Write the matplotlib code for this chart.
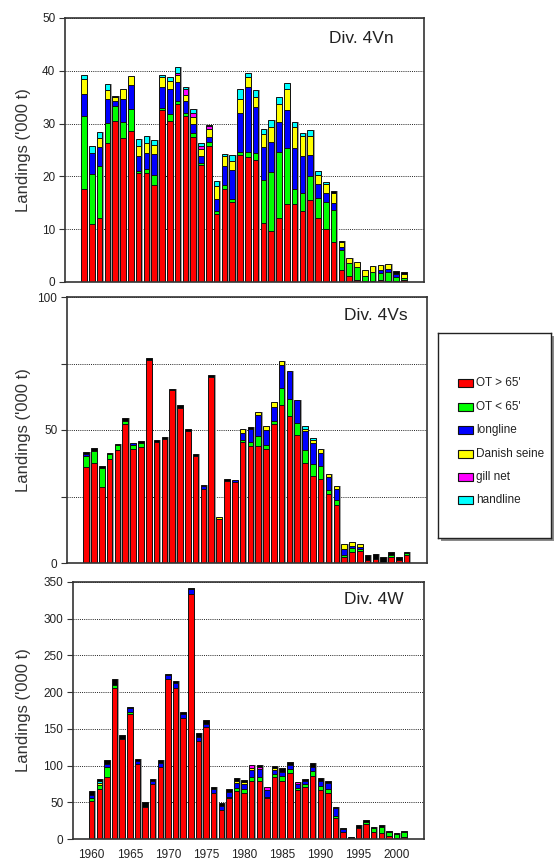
import numpy as np
import matplotlib
matplotlib.use('Agg')
import matplotlib.pyplot as plt
from matplotlib.patches import Rectangle

plt.rcParams['font.family'] = ['Liberation Sans', 'DejaVu Sans']

years = np.arange(1960, 2002)

gear_names = ["OT > 65'", "OT < 65'", 'longline', 'Danish seine', 'gill net', 'handline']
gear_colors = ['#ff0000', '#00ff00', '#0000ff', '#ffff00', '#ff00ff', '#00ffff', '#000000']

# ---- Div. 4Vn ('000 t)
vn_ot_large = [17.6, 10.9, 12.2, 26.3, 30.5, 27.2, 28.6, 20.6, 20.6, 18.3,
               32.5, 30.5, 33.7, 31.4, 27.4, 22.2, 25.8, 12.8, 17.7, 15.1,
               24.1, 23.6, 23.2, 11.1, 9.6, 12.2, 14.7, 14.7, 13.5, 15.6,
               12.2, 10.1, 7.5, 2.3, 1.2, 0.4, 0.1, 0.1, 0.4, 0.1,
               0.1, 0.3]
vn_ot_small = [13.8, 9.6, 9.8, 3.8, 2.8, 3.1, 4.1, 0.5, 0.8, 2.0,
               0.5, 1.3, 0.6, 0.7, 0.9, 0.4, 0.8, 0.6, 0.6, 0.7,
               0.6, 1.1, 1.3, 8.2, 11.3, 12.5, 10.6, 3.0, 3.4, 4.4,
               3.8, 5.1, 6.1, 3.8, 2.4, 2.4, 1.1, 1.7, 1.3, 1.7,
               0.9, 0.5]
vn_longline = [4.3, 3.9, 3.6, 4.6, 0.9, 4.4, 4.6, 2.8, 3.0, 4.0,
               4.0, 4.7, 3.6, 2.1, 1.6, 1.3, 0.9, 2.3, 3.7, 5.4,
               7.4, 12.2, 8.6, 6.3, 5.6, 5.6, 7.3, 7.6, 7.0, 4.1,
               2.5, 1.6, 1.3, 0.5, 0, 0, 0, 0, 0.6, 0.6,
               0.6, 0]
vn_danish = [2.8, 0, 1.6, 1.6, 0.8, 1.8, 1.8, 1.8, 2.0, 1.6,
             1.8, 1.6, 1.3, 1.3, 1.3, 1.3, 1.4, 2.5, 1.9, 1.7,
             2.5, 1.9, 1.9, 2.4, 2.9, 3.4, 4.0, 4.1, 3.8, 3.5,
             1.8, 1.7, 2.0, 0.9, 1.0, 0.9, 1.0, 1.3, 0.9, 1.0,
             0, 0.8]
vn_gillnet = [0, 0, 0, 0, 0, 0, 0, 0, 0, 0,
              0, 0, 0.4, 1.1, 0.8, 0.6, 0.7, 0, 0, 0,
              0, 0, 0, 0, 0, 0, 0, 0, 0, 0,
              0, 0, 0, 0, 0, 0, 0, 0, 0, 0,
              0, 0]
vn_handline = [0.7, 1.3, 1.3, 1.2, 0, 0, 0, 1.4, 1.2, 0.9,
               0.4, 0.8, 1.1, 0.4, 0.8, 0.5, 0, 0.9, 0.4, 1.1,
               2.0, 0.8, 1.3, 0.9, 1.2, 1.4, 1.1, 0.9, 0.6, 1.1,
               0.7, 0.5, 0, 0, 0, 0, 0, 0, 0, 0,
               0, 0]
vn_other = [0, 0, 0, 0, 0.2, 0, 0, 0, 0, 0,
            0, 0, 0, 0, 0, 0, 0.2, 0, 0, 0,
            0, 0, 0, 0, 0, 0, 0, 0, 0, 0,
            0, 0, 0.4, 0.3, 0, 0, 0, 0, 0, 0,
            0.5, 0.2]

# ---- Div. 4Vs
vs_ot_large = [36.1, 37.6, 28.6, 39.2, 42.4, 52.1, 42.9, 43.7, 76.2, 45.4,
               46.6, 64.9, 58.3, 49.5, 40.1, 27.9, 69.9, 16.5, 30.7, 30.3,
               45.4, 44.1, 44.1, 42.9, 52.1, 59.3, 55.3, 48.2, 37.6, 32.6,
               31.6, 25.9, 21.9, 2.1, 4.1, 4.6, 1.0, 1.5, 0.2, 2.1,
               1.0, 3.1]
vs_ot_small = [4.0, 4.6, 7.1, 1.9, 2.0, 1.1, 1.4, 1.3, 0, 0,
               0, 0, 0, 0, 0, 0, 0, 0, 0, 0,
               1.0, 1.3, 3.5, 1.3, 1.1, 6.5, 6.5, 4.6, 4.8, 4.8,
               4.8, 1.6, 1.6, 1.0, 1.5, 0.6, 0, 0, 0, 0.8,
               0, 0.6]
vs_longline = [1.0, 0, 0, 0, 0, 0, 0.9, 0, 0, 0,
               0, 0, 0, 0, 0, 0.9, 0, 0, 0, 1.0,
               2.5, 5.0, 7.9, 5.9, 5.6, 8.8, 10.3, 8.5, 7.1, 7.8,
               5.0, 5.0, 4.3, 2.1, 0.9, 1.0, 0, 0, 0, 0,
               0, 0]
vs_danish = [0, 0, 0, 0, 0, 0, 0, 0, 0, 0,
             0, 0, 0, 0, 0, 0, 0, 0.8, 0, 0,
             1.3, 0, 1.1, 1.4, 1.8, 1.5, 0, 0, 0.9, 1.0,
             1.3, 1.0, 1.0, 2.0, 1.3, 0.9, 0, 0, 0, 0,
             0, 0]
vs_gillnet = [0] * 42
vs_handline = [0, 0, 0, 0, 0, 0, 0, 0, 0, 0,
               0, 0, 0, 0, 0, 0, 0, 0, 0, 0,
               0, 0, 0, 0, 0, 0, 0, 0, 1.0, 0.9,
               0, 0, 0, 0, 0, 0, 0, 0, 0, 0,
               0, 0]
vs_other = [0.6, 1.0, 0.6, 0.3, 0.5, 1.3, 0, 1.0, 0.9, 0.8,
            0.8, 0.6, 1.0, 0.9, 1.0, 0.4, 0.9, 0, 1.0, 0,
            0, 0.6, 0, 0, 0, 0, 0, 0, 0, 0,
            0, 0, 0, 0, 0, 0, 2.1, 2.0, 1.9, 1.1,
            1.3, 0.6]

# ---- Div. 4W
w_ot_large = [51.8, 67.7, 85.0, 205.5, 135.9, 170.0, 102.3, 43.2, 75.0, 98.6,
              217.7, 205.5, 164.5, 333.6, 134.1, 152.3, 63.2, 39.5, 55.5, 65.5,
              63.2, 79.5, 79.5, 55.5, 84.1, 79.5, 89.5, 66.8, 71.4, 86.4,
              66.8, 63.2, 28.2, 10.0, 1.0, 15.5, 20.5, 9.1, 8.6, 4.5,
              0.9, 3.2]
w_ot_small = [3.6, 5.9, 13.6, 4.5, 0, 2.7, 0, 0, 0, 0,
              0, 0, 0, 0, 0, 0, 0, 0, 2.3, 3.6,
              4.5, 4.5, 5.5, 2.3, 4.1, 6.4, 5.5, 3.2, 3.2, 6.4,
              5.5, 5.0, 3.6, 0, 0, 0, 3.2, 5.5, 8.2, 5.5,
              5.9, 5.9]
w_longline = [4.5, 0, 3.6, 0, 0, 5.5, 4.1, 0, 4.1, 5.5,
              5.0, 6.8, 5.9, 6.8, 4.5, 4.5, 4.5, 5.5, 5.9, 6.8,
              7.3, 10.0, 10.0, 9.1, 5.9, 5.9, 5.9, 5.0, 4.5, 5.9,
              7.3, 7.7, 10.0, 3.2, 0, 0, 0, 0, 0, 0,
              0, 0]
w_danish = [0, 3.2, 0, 0, 0, 0, 0, 0, 0, 0,
            0, 0, 0, 0, 0, 0, 0, 0, 0, 3.2,
            2.3, 3.2, 0, 0, 3.2, 0, 0, 0, 0, 0,
            0, 0, 0, 0, 0, 0, 0, 0, 0, 0,
            0, 0]
w_gillnet = [0, 0, 0, 0, 0, 0, 0, 0, 0, 0,
             0, 0, 0, 0, 0, 0, 0, 0, 0, 0,
             0, 3.6, 3.6, 3.6, 0, 0, 0, 3.2, 0, 0,
             0, 0, 0, 0, 0, 0, 0, 0, 0, 0,
             0, 0]
w_handline = [0, 2.0, 0, 0, 0, 0, 0, 0, 0, 0,
              0, 0, 0, 0, 0, 0, 0, 0, 0, 0,
              0, 0, 0, 0, 0, 0, 0, 0, 0, 0,
              0, 0, 0, 0, 0, 0, 0, 0, 0, 0,
              0, 0]
w_other = [5.9, 3.0, 5.5, 7.7, 5.9, 1.0, 2.7, 6.8, 2.7, 3.6,
           2.3, 3.2, 3.2, 1.4, 5.5, 5.5, 3.6, 4.5, 4.5, 3.6,
           3.2, 0, 1.5, 0, 2.3, 5.5, 3.6, 0, 2.7, 4.5,
           4.1, 3.2, 2.3, 1.4, 2.2, 3.6, 2.3, 1.4, 2.3, 1.4,
           0.9, 1.8]

panels = [
    ('Div. 4Vn', [vn_ot_large, vn_ot_small, vn_longline, vn_danish, vn_gillnet, vn_handline, vn_other]),
    ('Div. 4Vs', [vs_ot_large, vs_ot_small, vs_longline, vs_danish, vs_gillnet, vs_handline, vs_other]),
    ('Div. 4W', [w_ot_large, w_ot_small, w_longline, w_danish, w_gillnet, w_handline, w_other]),
]

W, H = 558, 860
fig = plt.figure(figsize=(W / 100, H / 100), dpi=100)

# axes boxes in pixels: left, top, right, bottom
boxes = [(65, 18, 424, 282), (67, 297, 427, 563), (73, 582, 424, 839)]
label_x = [31, 31, 31]
text_pos = [(0.914, 0.924), (0.947, 0.93), (0.943, 0.93)]

for i, (title, series) in enumerate(panels):
    l, t, r, b = boxes[i]
    ax = fig.add_axes([l / W, 1 - b / H, (r - l) / W, (b - t) / H])
    ax.set_axisbelow(True)

    arr = np.array(series, dtype=float)
    total = arr.sum(axis=0)
    # grey drop shadow behind each bar
    ax.bar(years + 0.2, total, width=0.72, color='#a0a0a0', linewidth=0, zorder=1)
    bottom = np.zeros(len(years))
    for vals, col in zip(arr, gear_colors):
        m = vals > 0
        ax.bar(years[m], vals[m], bottom=bottom[m], width=0.72, color=col,
               edgecolor='#111111', linewidth=0.7, zorder=2)
        bottom += vals

    ax.set_xlim(1957.55, 2003.6)
    if i == 0:
        ax.set_ylim(0, 50)
        ax.set_yticks(np.arange(0, 51, 10))
        ax.yaxis.grid(True, which='major', color='#222222', linestyle=(0, (1, 1.2)), linewidth=0.7)
    elif i == 1:
        ax.set_ylim(0, 100)
        ax.set_yticks([0, 50, 100])
        ax.set_yticks([25, 75], minor=True)
        ax.yaxis.grid(True, which='both', color='#222222', linestyle=(0, (1, 1.2)), linewidth=0.7)
        ax.tick_params(axis='y', which='minor', length=4, width=0.8, color='#333333')
    else:
        ax.set_ylim(0, 350)
        ax.set_yticks(np.arange(0, 351, 50))
        ax.yaxis.grid(True, which='major', color='#222222', linestyle=(0, (1, 1.2)), linewidth=0.7)

    ax.tick_params(axis='y', which='major', length=4, width=0.8, color='#333333',
                   labelsize=8.5, labelcolor='#222222', pad=3)
    if i == 2:
        ax.set_xticks(np.arange(1960, 2001, 5))
        ax.tick_params(axis='x', length=0, labelsize=8.5, labelcolor='#222222', pad=7)
    else:
        ax.set_xticks([])

    for sp in ax.spines.values():
        sp.set_color('#333333')
        sp.set_linewidth(1.2)

    ax.set_ylabel("Landings ('000 t)", fontsize=12, color='#333333')
    ax.yaxis.set_label_coords((label_x[i] - l) / (r - l), 0.5)
    ax.text(text_pos[i][0], text_pos[i][1], title, transform=ax.transAxes,
            ha='right', va='center', fontsize=12.5, color='#222222')

# legend box with shadow
lx0, ly0, lx1, ly1 = 438, 333, 551, 538
shadow = fig.add_axes([(lx0 + 3) / W, 1 - (ly1 + 3) / H, (lx1 - lx0) / W, (ly1 - ly0) / H])
shadow.set_facecolor('#8a8a8a')
shadow.set_xticks([])
shadow.set_yticks([])
for sp in shadow.spines.values():
    sp.set_visible(False)
lax = fig.add_axes([lx0 / W, 1 - ly1 / H, (lx1 - lx0) / W, (ly1 - ly0) / H])
lax.set_facecolor('white')
lax.set_xlim(lx0, lx1)
lax.set_ylim(ly1, ly0)
lax.set_xticks([])
lax.set_yticks([])
for sp in lax.spines.values():
    sp.set_color('#222222')
    sp.set_linewidth(1.0)
entry_y = [383, 407, 430, 454, 477, 500]
for name, col, yy in zip(gear_names, gear_colors, entry_y):
    lax.add_patch(Rectangle((458, yy - 4), 15, 8, facecolor=col, edgecolor='#111111', linewidth=0.8))
    lax.text(476, yy, name, ha='left', va='center', fontsize=8.5, color='#222222')

fig.savefig('out.png', dpi=100)
